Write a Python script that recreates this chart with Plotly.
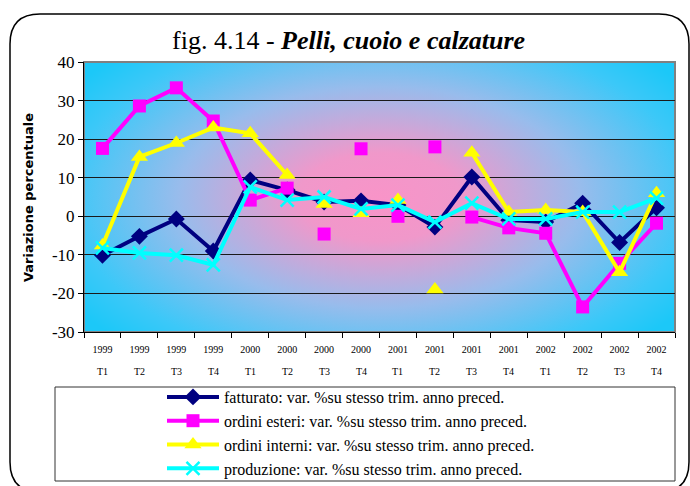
import base64
import plotly.graph_objects as go

# ---------------- data ----------------
years = ["1999", "1999", "1999", "1999", "2000", "2000", "2000", "2000",
         "2001", "2001", "2001", "2001", "2002", "2002", "2002", "2002"]
quarters = ["T1", "T2", "T3", "T4", "T1", "T2", "T3", "T4",
            "T1", "T2", "T3", "T4", "T1", "T2", "T3", "T4"]
categories = [f"{y} {q}" for y, q in zip(years, quarters)]

fatturato = [-10.1, -5.2, -0.7, -9.0, 9.4, 6.8, 3.7, 4.0,
             2.9, -2.8, 10.2, -1.0, -1.5, 3.4, -6.8, 2.2]
ordini_esteri = [17.6, 28.6, 33.3, 24.7, 4.2, 7.3, -4.6, 17.5,
                 0.0, 18.0, -0.2, -3.0, -4.4, -23.5, -12.2, -1.8]
ordini_interni = [-7.6, 15.4, 19.0, 23.0, 21.5, 10.7, 3.2, 0.8,
                  4.2, -19.0, 16.5, 1.1, 1.6, 1.1, -14.5, 6.0]
produzione = [-8.2, -9.5, -10.1, -12.6, 7.6, 4.2, 5.0, 1.9,
              2.9, -1.5, 3.4, -0.7, -0.7, 1.1, 1.1, 4.7]

# which points are joined by the line in the original picture
esteri_joined = [1, 1, 1, 1, 1, 1, 0, 0, 0, 0, 1, 1, 1, 1, 1, 1]
interni_joined = [1, 1, 1, 1, 1, 1, 0, 0, 0, 0, 1, 1, 1, 1, 1, 1]

names = [
    "fatturato: var. %su stesso trim. anno preced.",
    "ordini esteri: var. %su stesso trim. anno preced.",
    "ordini interni: var. %su stesso trim. anno preced.",
    "produzione: var. %su stesso trim. anno preced.",
]

y_ticks = [-30, -20, -10, 0, 10, 20, 30, 40]
y_ticktext = ["-30", "-20", "-10", "0", "10", "20", "30", "40"]

# ---------------- geometry helpers (pixel -> paper) ----------------
W, H = 690, 486
L, R, T, B = 84, 675, 62, 332


def px(x):
    return (x - L) / (R - L)


def py(y):
    return (B - y) / (B - T)


SERIF = "Liberation Serif, Times New Roman, DejaVu Serif, serif"

fig = go.Figure()


def masked(vals, flags, keep):
    return [v if (f == keep) else None for v, f in zip(vals, flags)]


# fatturato
fig.add_trace(go.Scatter(
    x=categories, y=fatturato, name=names[0], mode="lines+markers",
    line=dict(color="#000080", width=4),
    marker=dict(symbol="diamond", size=13, color="#000080"),
))
# ordini esteri
fig.add_trace(go.Scatter(
    x=categories, y=masked(ordini_esteri, esteri_joined, 1), name=names[1],
    mode="lines+markers", connectgaps=False,
    line=dict(color="#FF00FF", width=4),
    marker=dict(symbol="square", size=13, color="#FF00FF"),
))
fig.add_trace(go.Scatter(
    x=categories, y=masked(ordini_esteri, esteri_joined, 0), name=names[1],
    mode="markers", showlegend=False,
    marker=dict(symbol="square", size=13, color="#FF00FF"),
))
# ordini interni
fig.add_trace(go.Scatter(
    x=categories, y=masked(ordini_interni, interni_joined, 1), name=names[2],
    mode="lines+markers", connectgaps=False,
    line=dict(color="#FFFF00", width=4),
    marker=dict(symbol="triangle-up", size=15, color="#FFFF00"),
))
fig.add_trace(go.Scatter(
    x=categories, y=masked(ordini_interni, interni_joined, 0), name=names[2],
    mode="markers", showlegend=False,
    marker=dict(symbol="triangle-up", size=15, color="#FFFF00"),
))
# produzione
fig.add_trace(go.Scatter(
    x=categories, y=produzione, name=names[3], mode="lines+markers",
    line=dict(color="#00FFFF", width=4),
    marker=dict(symbol="x-thin", size=13, color="#00FFFF",
                line=dict(color="#00FFFF", width=2.5)),
))

# ---------------- gradient background (SVG data URI) ----------------
svg = (
    '<svg xmlns="http://www.w3.org/2000/svg" width="591" height="270" '
    'viewBox="0 0 591 270" preserveAspectRatio="none">'
    '<defs><radialGradient id="g" cx="0.5" cy="0.5" r="0.62" '
    'gradientTransform="translate(0.5,0.5) scale(1,1.2) translate(-0.5,-0.5)">'
    '<stop offset="0" stop-color="#F894C8"/>'
    '<stop offset="0.22" stop-color="#F098CA"/>'
    '<stop offset="0.55" stop-color="#98BCEC"/>'
    '<stop offset="0.85" stop-color="#3CC8F8"/>'
    '<stop offset="1" stop-color="#1CC8F8"/>'
    '</radialGradient></defs>'
    '<rect x="0" y="0" width="591" height="270" fill="url(#g)"/></svg>'
)
src = "data:image/svg+xml;base64," + base64.b64encode(svg.encode()).decode()

fig.add_layout_image(dict(
    source=src, xref="paper", yref="paper", x=0, y=1, sizex=1, sizey=1,
    xanchor="left", yanchor="top", sizing="stretch", layer="below",
))

# ---------------- shapes: outer frame, plot border, legend box ----------------
r = 30
fl, ft, fr, fb = 10, 14, 689, 492
frame_path = (
    f"M {px(fl)},{py(ft + r)} Q {px(fl)},{py(ft)} {px(fl + r)},{py(ft)} "
    f"L {px(fr - r)},{py(ft)} Q {px(fr)},{py(ft)} {px(fr)},{py(ft + r)} "
    f"L {px(fr)},{py(fb - r)} Q {px(fr)},{py(fb)} {px(fr - r)},{py(fb)} "
    f"L {px(fl + r)},{py(fb)} Q {px(fl)},{py(fb)} {px(fl)},{py(fb - r)} Z"
)
fig.add_shape(type="path", path=frame_path, xref="paper", yref="paper",
              line=dict(color="black", width=1.5), layer="below")
fig.add_shape(type="rect", xref="paper", yref="paper", x0=0, y0=0, x1=1, y1=1,
              line=dict(color="#808080", width=2), layer="below")
fig.add_shape(type="rect", xref="paper", yref="paper",
              x0=px(55), y0=py(387), x1=px(675), y1=py(481),
              line=dict(color="#333333", width=1), fillcolor="white", layer="below")

# ---------------- annotations ----------------
ann = []
ann.append(dict(
    text="fig. 4.14 - <b><i>Pelli, cuoio e calzature</i></b>",
    xref="paper", yref="paper", x=px(348), y=py(40),
    xanchor="center", yanchor="middle", showarrow=False,
    font=dict(family=SERIF, size=26, color="black"),
))
ann.append(dict(
    text="<b>Variazione percentuale</b>", textangle=-90,
    xref="paper", yref="paper", x=px(28), y=py(198),
    xanchor="center", yanchor="middle", showarrow=False,
    font=dict(family="DejaVu Sans, Liberation Sans, sans-serif", size=13,
              color="black"),
))
for c, q in zip(categories, quarters):
    ann.append(dict(
        text=q, xref="x", yref="paper", x=c, y=py(371),
        xanchor="center", yanchor="middle", showarrow=False,
        font=dict(family=SERIF, size=10, color="black"),
    ))

fig.update_layout(
    width=W, height=H,
    margin=dict(l=L, r=W - R, t=T, b=H - B, autoexpand=False),
    paper_bgcolor="white",
    plot_bgcolor="rgba(0,0,0,0)",
    showlegend=True,
    legend=dict(
        xref="container", yref="container",
        x=162 / W, y=1 - 380 / H, xanchor="left", yanchor="top",
        bgcolor="rgba(0,0,0,0)", borderwidth=0,
        font=dict(family=SERIF, size=16, color="black"),
        itemwidth=52, tracegroupgap=0,
    ),
    annotations=ann,
    xaxis=dict(
        type="category", tickvals=categories, ticktext=years,
        tickson="boundaries", ticks="outside", ticklen=5, tickcolor="black",
        showline=True, linecolor="black", linewidth=1,
        showgrid=False, zeroline=False,
        tickfont=dict(family=SERIF, size=10, color="black"),
        ticklabelstandoff=8, range=[-0.5, 15.5],
    ),
    yaxis=dict(
        range=[-30, 40], tickvals=y_ticks, ticktext=y_ticktext,
        ticks="outside", ticklen=5,
        tickcolor="black", showline=True, linecolor="black", linewidth=1,
        showgrid=True, gridcolor="#1a1a1a", gridwidth=1,
        zeroline=True, zerolinecolor="#1a1a1a", zerolinewidth=1,
        tickfont=dict(family=SERIF, size=17, color="black"),
    ),
)

fig.write_html(
    "out.html",
    config={"displayModeBar": False},
    post_script="document.body.style.margin='0';document.body.style.overflow='hidden';",
)
